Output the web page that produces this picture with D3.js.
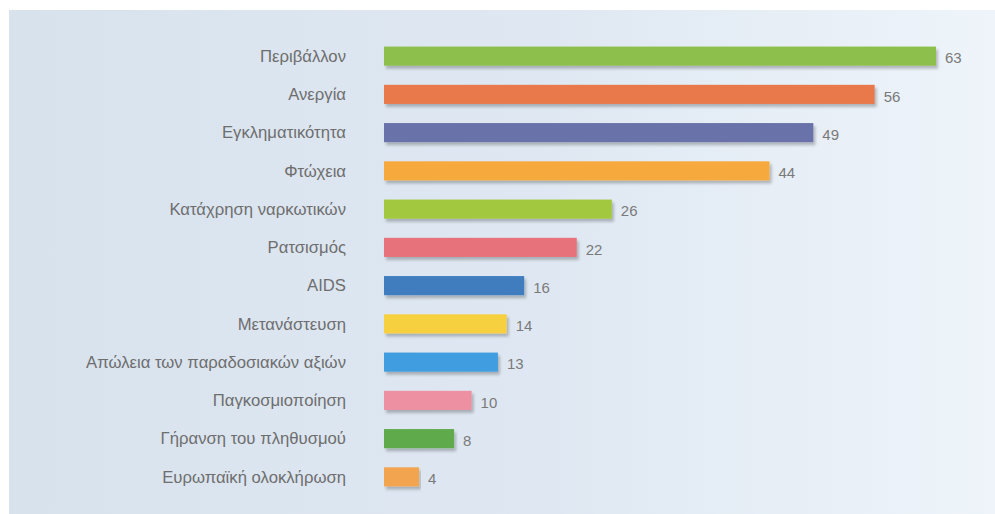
<!DOCTYPE html>
<meta charset="utf-8">
<html>
<head>
  <script src="https://d3js.org/d3.v7.min.js"></script>
  <style>
    body { margin: 0; background: #fff; }
    .label { font-family: "Liberation Sans", Arial, sans-serif; fill: #6e6e6e; }
  </style>
</head>
<body>
  <div id="chart"></div>
  <script>
    var categories = [
      "Περιβάλλον", "Ανεργία", "Εγκληματικότητα", "Φτώχεια",
      "Κατάχρηση ναρκωτικών", "Ρατσισμός", "AIDS", "Μετανάστευση",
      "Απώλεια των παραδοσιακών αξιών", "Παγκοσμιοποίηση",
      "Γήρανση του πληθυσμού", "Ευρωπαϊκή ολοκλήρωση"
    ]
    var values = [63, 56, 49, 44, 26, 22, 16, 14, 13, 10, 8, 4]
    var colors = [
      "#8dbf4e", "#e9784c", "#6a72aa", "#f6aa3e", "#a2c83f", "#e7727c",
      "#3f7dbf", "#f7d040", "#3f9de0", "#ec90a2", "#5eab4c", "#f2a450"
    ]

    var width = 995
    var height = 514

    var svg = d3.select("#chart")
      .append("svg")
      .attr("width", width)
      .attr("height", height)

    // scanned-paper background: bluish on the left, fading to near white on the right
    var defs = svg.append("defs")
    var grad = defs.append("linearGradient")
      .attr("id", "bg")
      .attr("x1", "0%").attr("x2", "100%")
      .attr("y1", "0%").attr("y2", "0%")
    grad.append("stop").attr("offset", "0%").attr("stop-color", "#d8e2ed")
    grad.append("stop").attr("offset", "55%").attr("stop-color", "#dfe8f2")
    grad.append("stop").attr("offset", "100%").attr("stop-color", "#eef4fa")

    var shadow = defs.append("filter")
      .attr("id", "shadow")
      .attr("x", "-5%").attr("y", "-30%")
      .attr("width", "110%").attr("height", "180%")
    shadow.append("feGaussianBlur").attr("in", "SourceAlpha").attr("stdDeviation", 1.5)
    shadow.append("feOffset").attr("dx", 2).attr("dy", 3).attr("result", "off")
    shadow.append("feComponentTransfer").append("feFuncA").attr("type", "linear").attr("slope", 0.25)
    var merge = shadow.append("feMerge")
    merge.append("feMergeNode")
    merge.append("feMergeNode").attr("in", "SourceGraphic")

    svg.append("rect")
      .attr("x", 9).attr("y", 10)
      .attr("width", width - 9).attr("height", height - 10)
      .attr("fill", "url(#bg)")

    var x = d3.scaleLinear()
      .domain([0, 63])
      .range([384, 936])

    var y = d3.scaleBand()
      .domain(categories)
      .range([37, 496])
      .paddingInner(0.5)
      .paddingOuter(0.25)

    var rows = svg.selectAll("g.row")
      .data(categories)
      .enter().append("g")
      .attr("class", "row")

    rows.append("rect")
      .attr("x", x(0))
      .attr("y", function(d) { return y(d) })
      .attr("width", function(d, i) { return x(values[i]) - x(0) })
      .attr("height", y.bandwidth())
      .attr("fill", function(d, i) { return colors[i] })
      .attr("filter", "url(#shadow)")

    rows.append("text")
      .attr("class", "label")
      .attr("x", 346)
      .attr("y", function(d) { return y(d) + y.bandwidth() / 2 })
      .attr("dy", "0.35em")
      .attr("text-anchor", "end")
      .style("font-size", "16.7px")
      .text(function(d) { return d })

    rows.append("text")
      .attr("class", "label")
      .attr("x", function(d, i) { return x(values[i]) + 9 })
      .attr("y", function(d) { return y(d) + y.bandwidth() / 2 + 2 })
      .attr("dy", "0.35em")
      .style("font-size", "15px")
      .style("fill", "#7a7a7a")
      .text(function(d, i) { return values[i] })
  </script>
</body>
</html>
